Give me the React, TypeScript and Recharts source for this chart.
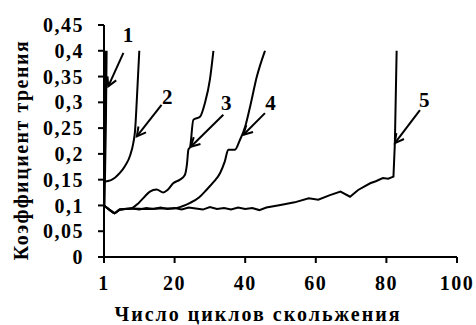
import React from "react";
import {
  LineChart,
  Line,
  XAxis,
  YAxis,
  ReferenceLine,
  ReferenceDot,
} from "recharts";

type Pt = { x: number; y: number };

const pts = (rows: number[][]): Pt[] => rows.map(([x, y]) => ({ x, y }));

// curve 1 - jumps right at the start
const curve1 = pts([
  [0, 0.1],
  [0.4, 0.26],
  [0.6, 0.4],
]);

const curve2 = pts([
  [0, 0.146],
  [2, 0.149],
  [4.5, 0.163],
  [6, 0.177],
  [7.4, 0.197],
  [8.3, 0.221],
  [8.8, 0.245],
  [9.3, 0.305],
  [10, 0.4],
]);

const curve3 = pts([
  [0, 0.1],
  [1.5, 0.092],
  [3, 0.085],
  [4.5, 0.092],
  [6, 0.093],
  [7.5, 0.094],
  [9.7, 0.104],
  [11.5, 0.117],
  [13, 0.127],
  [14.9, 0.131],
  [16.8, 0.125],
  [18, 0.13],
  [19.6, 0.143],
  [21.5, 0.15],
  [22.9, 0.159],
  [23.5, 0.18],
  [23.9, 0.208],
  [24.4, 0.214],
  [25.3, 0.266],
  [27.2, 0.272],
  [28.6, 0.299],
  [30, 0.344],
  [31, 0.4],
]);

const curve4 = pts([
  [0, 0.1],
  [1.5, 0.092],
  [3, 0.085],
  [4.5, 0.092],
  [8, 0.094],
  [12, 0.093],
  [16, 0.094],
  [19.6, 0.094],
  [22, 0.098],
  [24.4, 0.105],
  [27, 0.116],
  [29, 0.13],
  [31, 0.145],
  [32.9, 0.163],
  [34.2, 0.185],
  [35.2, 0.208],
  [37.1, 0.208],
  [38.5, 0.227],
  [40, 0.253],
  [41.4, 0.292],
  [43.3, 0.35],
  [45.6, 0.4],
]);

const curve5 = pts([
  [0, 0.1],
  [1.5, 0.092],
  [3, 0.085],
  [4.5, 0.092],
  [6, 0.093],
  [8, 0.094],
  [10, 0.092],
  [12, 0.095],
  [14, 0.093],
  [16, 0.096],
  [18, 0.093],
  [20, 0.095],
  [22, 0.092],
  [24, 0.096],
  [26, 0.094],
  [28, 0.092],
  [30, 0.097],
  [32, 0.093],
  [34, 0.095],
  [36, 0.092],
  [38, 0.096],
  [40, 0.093],
  [42, 0.095],
  [44, 0.091],
  [46, 0.096],
  [50, 0.101],
  [54, 0.106],
  [58, 0.114],
  [60.7, 0.111],
  [64, 0.12],
  [67, 0.127],
  [69.7, 0.117],
  [72, 0.13],
  [75.4, 0.143],
  [77, 0.147],
  [79, 0.153],
  [80.5, 0.152],
  [82, 0.156],
  [82.4, 0.221],
  [82.9, 0.4],
]);

const curves = [curve1, curve2, curve3, curve4, curve5];
const curveTypes = ["linear", "monotone", "monotone", "monotone", "linear"];

const xTicks = [0, 20, 40, 60, 80, 100];
const xTickLabels = ["1", "20", "40", "60", "80", "100"];
const yTicks = [0, 0.05, 0.1, 0.15, 0.2, 0.25, 0.3, 0.35, 0.4, 0.45];

// arrows: tail -> tip (on the curve), number near the tail
const arrows = [
  { name: "1", tail: [5.5, 0.396], tip: [1.2, 0.331], label: [6.8, 0.431] },
  { name: "2", tail: [16.3, 0.295], tip: [9.3, 0.234], label: [17.9, 0.311] },
  { name: "3", tail: [33.8, 0.276], tip: [24.6, 0.214], label: [34.6, 0.299] },
  { name: "4", tail: [45.6, 0.279], tip: [39.5, 0.237], label: [47.2, 0.299] },
  { name: "5", tail: [89.5, 0.285], tip: [82.4, 0.221], label: [90.7, 0.305] },
];

const FONT = "'Liberation Serif', 'Times New Roman', serif";

const tickStyle = {
  fontFamily: FONT,
  fontWeight: 700,
  fontSize: 20,
  fill: "#000",
  letterSpacing: 1.5,
};

const fmtY = (v: number) =>
  String(Number(v.toFixed(2))).replace(".", ",");

const Arrow = (p: any) => {
  const { x1, y1, x2, y2 } = p;
  const ang = Math.atan2(y2 - y1, x2 - x1);
  const len = 10;
  const a1 = ang + Math.PI - 0.5;
  const a2 = ang + Math.PI + 0.5;
  return (
    <g stroke="#000" strokeWidth={2} fill="none">
      <line x1={x1} y1={y1} x2={x2} y2={y2} />
      <polyline
        points={`${x2 + len * Math.cos(a1)},${y2 + len * Math.sin(a1)} ${x2},${y2} ${
          x2 + len * Math.cos(a2)
        },${y2 + len * Math.sin(a2)}`}
      />
    </g>
  );
};

export default function App() {
  return (
    <div style={{ position: "absolute", left: 0, top: 0, background: "#fff" }}>
      <LineChart
        width={476}
        height={325}
        margin={{ top: 25, right: 19, bottom: 0, left: 0 }}
      >
        <XAxis
          type="number"
          dataKey="x"
          domain={[0, 100]}
          ticks={xTicks}
          tickFormatter={(v: number) => xTickLabels[xTicks.indexOf(v)]}
          height={68}
          stroke="#000"
          strokeWidth={2}
          tickSize={6}
          tickMargin={13}
          tick={tickStyle}
          allowDataOverflow
        />
        <YAxis
          type="number"
          domain={[0, 0.45]}
          ticks={yTicks}
          tickFormatter={fmtY}
          width={104}
          stroke="#000"
          strokeWidth={2}
          tickSize={6}
          tickMargin={14}
          tick={tickStyle}
          interval={0}
        />

        {curves.map((c, i) => (
          <Line
            key={i}
            data={c}
            dataKey="y"
            type={curveTypes[i] as any}
            stroke="#000"
            strokeWidth={i === 0 ? 3 : 2}
            dot={false}
            isAnimationActive={false}
          />
        ))}

        {arrows.map((a) => (
          <ReferenceLine
            key={"a" + a.name}
            segment={[
              { x: a.tail[0], y: a.tail[1] },
              { x: a.tip[0], y: a.tip[1] },
            ]}
            shape={Arrow}
            ifOverflow="visible"
          />
        ))}
        {arrows.map((a) => (
          <ReferenceDot
            key={"l" + a.name}
            x={a.label[0]}
            y={a.label[1]}
            r={0}
            ifOverflow="visible"
            shape={(p: any) => (
              <text
                x={p.cx}
                y={p.cy}
                textAnchor="middle"
                dominantBaseline="central"
                fontFamily={FONT}
                fontWeight={700}
                fontSize={21}
                fill="#000"
              >
                {a.name}
              </text>
            )}
          />
        ))}

        <text
          x={21}
          y={150}
          transform="rotate(-90 21 150)"
          textAnchor="middle"
          dominantBaseline="central"
          fontFamily={FONT}
          fontWeight={700}
          fontSize={20}
          letterSpacing={1.5}
          fill="#000"
        >
          Коэффициент трения
        </text>
        <text
          x={258}
          y={321}
          textAnchor="middle"
          fontFamily={FONT}
          fontWeight={700}
          fontSize={20}
          letterSpacing={2}
          fill="#000"
        >
          Число циклов скольжения
        </text>
      </LineChart>
    </div>
  );
}
